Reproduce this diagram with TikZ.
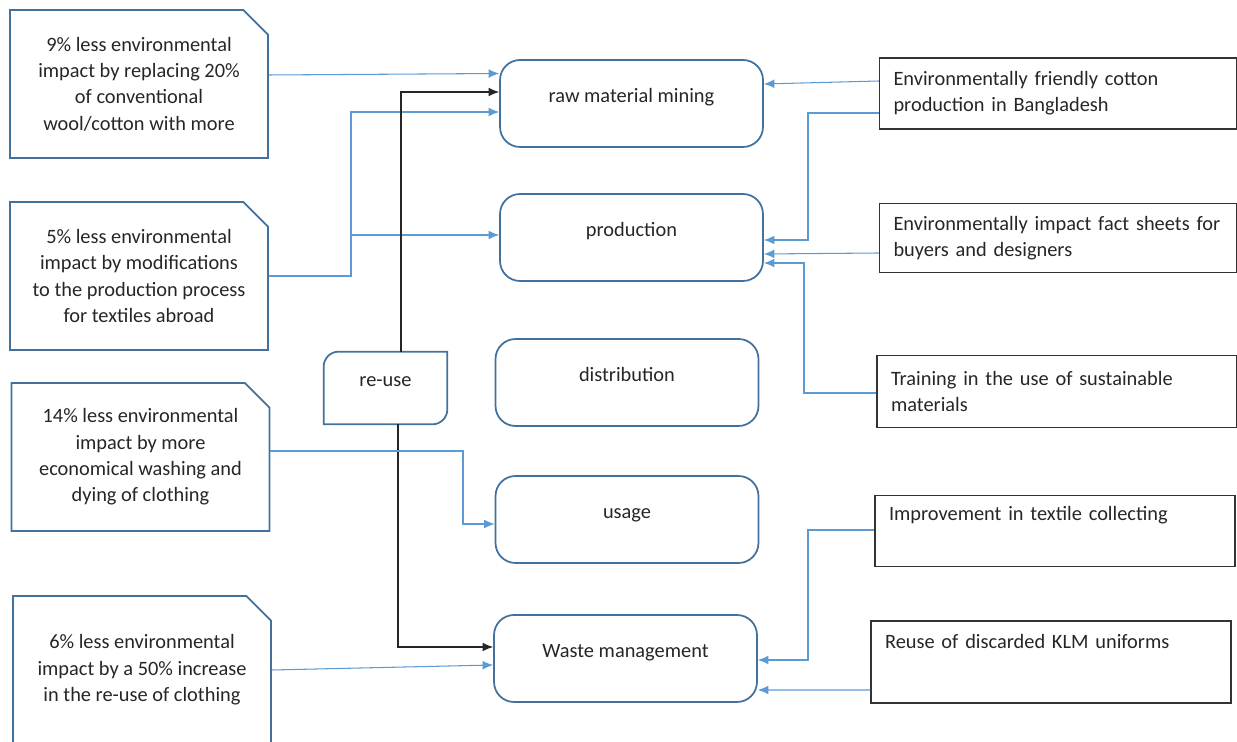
\documentclass[tikz,border=0pt]{standalone}
\usepackage{fontspec}
\setmainfont{Carlito}
\usepackage{tikz}
\usetikzlibrary{shapes.misc}
\usetikzlibrary{arrows.meta}
\tikzset{>={Latex[length=6pt,width=5pt]}}
\definecolor{boxblue}{HTML}{41719C}
\definecolor{flowblue}{HTML}{5B9BD5}
\tikzset{
    every node/.style={font=\fontsize{11.6}{15}\selectfont, text=black!85},
    note/.style={draw=boxblue, line width=1pt, chamfered rectangle,
        chamfered rectangle corners=north east,
        chamfered rectangle xsep=0.26cm, chamfered rectangle ysep=0.23cm,
        minimum width=5.16cm, minimum height=2.96cm, align=center, inner sep=0pt},
    stage/.style={draw=boxblue, line width=1pt, rounded corners=0.4cm,
        minimum width=5.26cm, minimum height=1.74cm, text height=0.3cm, text depth=0.34cm},
    measure/.style={draw=black!80, line width=0.8pt, inner xsep=0.28cm,
        minimum height=1.42cm, align=left},
    flow/.style={->, flowblue, line width=0.6pt},
    link/.style={->, black!85, line width=0.6pt}
}

\begin{document}
\begin{tikzpicture}[x=0.02cm, y=-0.02cm]
    \useasboundingbox (0, 0) rectangle (1237, 742);
    % left: savings
    \node[note] (n1) at (139, 84) {9\% less environmental\\impact by replacing 20\%\\of conventional\\wool/cotton with more};
    \node[note] (n2) at (139, 276) {5\% less environmental\\impact by modifications\\to the production process\\for textiles abroad};
    \node[note] (n3) at (140.5, 457) {14\% less environmental\\impact by more\\economical washing and\\dying of clothing};
    \node[note] (n4) at (142, 670) {6\% less environmental\\impact by a 50\% increase\\in the re-use of clothing};
    % middle: chain
    \node[stage] (raw) at (631.5, 103.5) {raw material mining};
    \node[stage] (prod) at (631.5, 237.5) {production};
    \node[stage] (dist) at (627, 382.5) {distribution};
    \node[stage] (use) at (627, 519.5) {usage};
    \node[stage] (waste) at (625.5, 658.5) {Waste management};
    \node[minimum width=2.46cm, minimum height=1.44cm, text height=0.3cm, text depth=0.34cm] (reuse) at (385.5, 388) {re-use};
    \draw[boxblue, line width=1pt] (reuse.south west) [rounded corners=0.3cm] -- (reuse.north west)
        [sharp corners] -- (reuse.north east) [rounded corners=0.3cm] -- (reuse.south east)
        [sharp corners] -- cycle;
    % right: measures
    \node[measure, text width=6.58cm] (m1) at (1058, 93.5) {Environmentally friendly cotton\\production in Bangladesh};
    \node[measure, text width=6.58cm, minimum height=1.38cm] (m2) at (1058, 238) {Environmentally impact fact sheets for\\buyers and designers};
    \node[measure, text width=6.64cm, minimum height=1.44cm] (m3) at (1057, 391.5) {Training in the use of sustainable\\materials};
    \node[measure, text width=6.64cm] (m4) at (1055, 531) {Improvement in textile collecting\\\strut};
    \node[measure, text width=6.64cm, minimum height=1.64cm] (m5) at (1051, 662) {Reuse of discarded KLM uniforms\\[0.15cm]\strut};
    \coordinate (bt) at (351, 112);
    \coordinate (bm) at (351, 235);
    \coordinate (ku) at (401, 92);
    \coordinate (kd) at (398, 647);
    \coordinate (cu) at (463, 451);
    \coordinate (cd) at (463, 524);
    \coordinate (ra) at (808, 113);
    \coordinate (rb) at (808, 240);
    \coordinate (rc) at (804, 393);
    \coordinate (rd) at (804, 263);
    \coordinate (re) at (808, 530);
    \coordinate (rf) at (808, 660);
    \draw[flow] ([yshift=0.18cm]n1.east) -- ([yshift=0.6cm]raw.west);
    \draw[flow] (n2.east) -| (bt) -- (raw.west |- bt);
    \draw[flow] (bm) -- (prod.west |- bm);
    \draw[link] (reuse.north -| ku) -- (ku) -- (raw.west |- ku);
    \draw[link] (reuse.south -| kd) -- (kd) -- (waste.west |- kd);
    \draw[flow] (n3.east |- cu) -- (cu) -- (cd) -- (use.west |- cd);
    \draw[flow] (n4.east) -- ([yshift=-0.13cm]waste.west);
    \draw[flow] ([yshift=0.25cm]m1.west) -- ([yshift=0.39cm]raw.east);
    \draw[flow] (m1.west |- ra) -- (ra) -- (rb) -- (prod.east |- rb);
    \draw[flow] ([yshift=-0.3cm]m2.west) -- ([yshift=-0.33cm]prod.east);
    \draw[flow] (m3.west |- rc) -- (rc) -- (rd) -- (prod.east |- rd);
    \draw[flow] (m4.west |- re) -- (re) -- (rf) -- (waste.east |- rf);
    \draw[flow] ([yshift=-0.56cm]m5.west) -- ([yshift=-0.63cm]waste.east);
\end{tikzpicture}
\end{document}
